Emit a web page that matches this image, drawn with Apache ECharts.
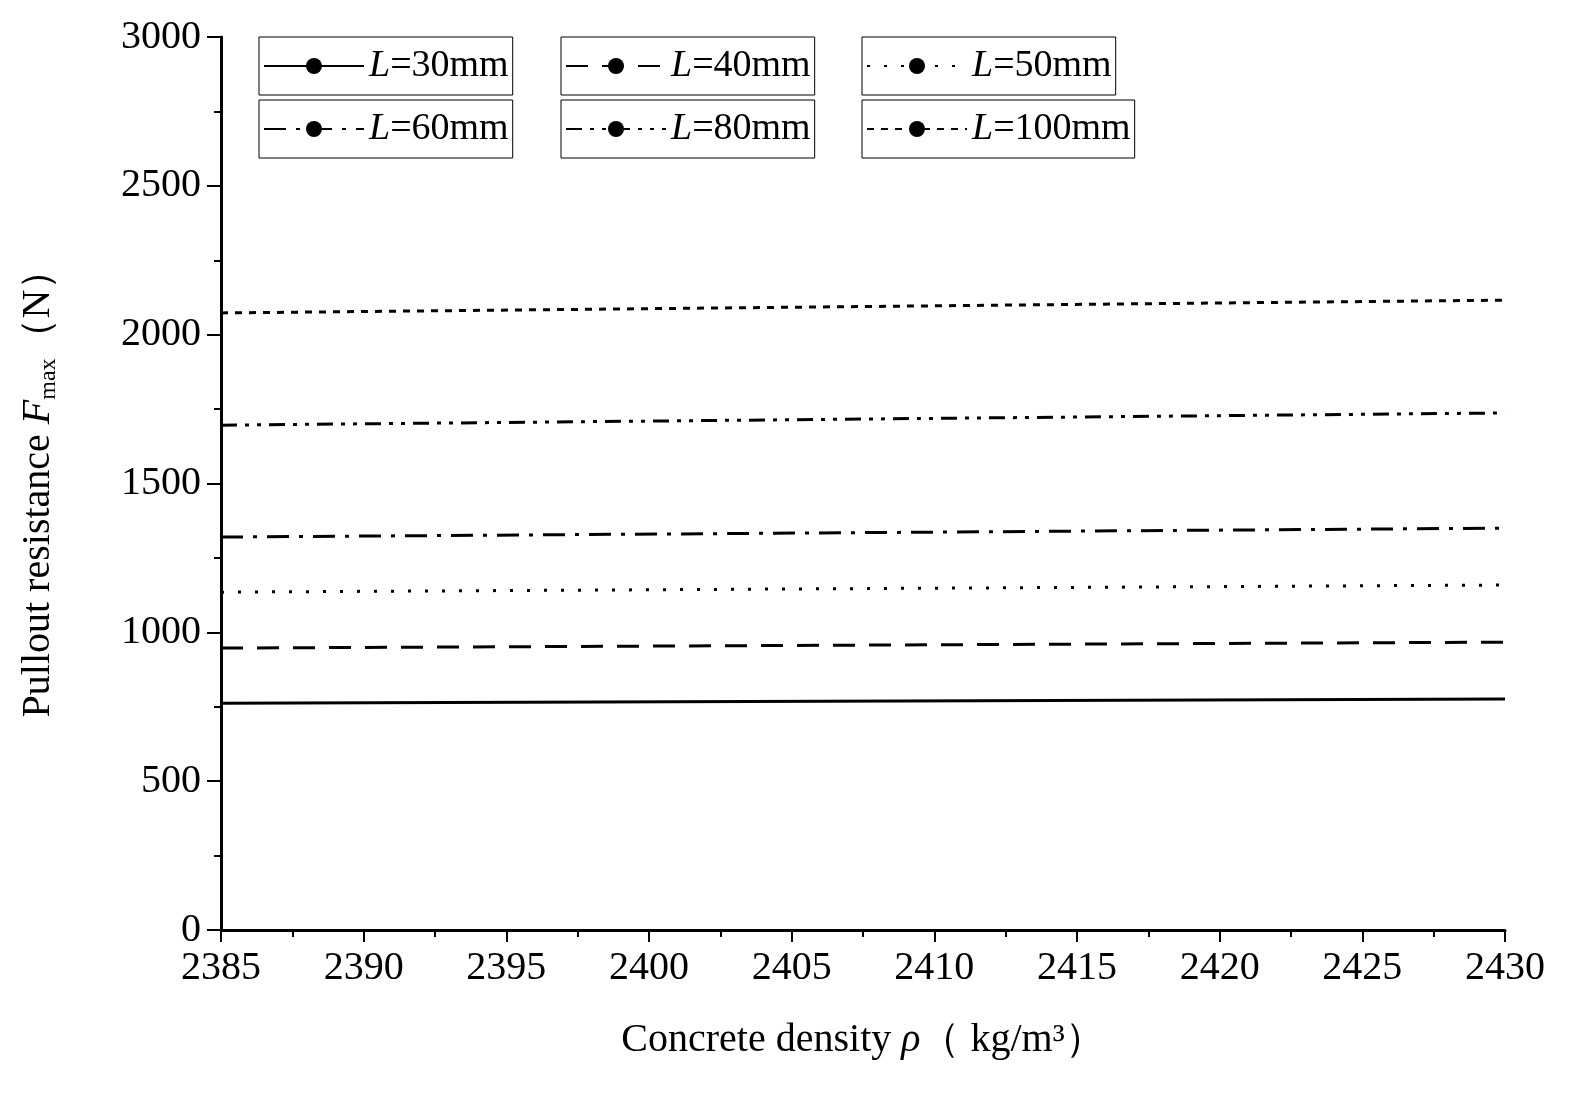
<!DOCTYPE html><html><head><meta charset="utf-8"><script src="https://cdn.jsdelivr.net/npm/echarts@6/dist/echarts.min.js"></script></head><body style="margin:0"><div id="c" style="width:1572px;height:1094px"></div><script>
const xVals=[2385,2430];
const names=['30','40','50','60','80','100'];
const s30=[762,776],s40=[947,967],s50=[1135,1159],s60=[1320,1350],s80=[1696,1737],s100=[2073,2116];
const seriesData=[s30,s40,s50,s60,s80,s100];
const dashes=['solid',[22,14],[3,14],[22,10,4,10],[16,8,4,8,4,8],[7,7]];
const F='Liberation Serif';
const boxes=[[259,37],[561,37],[862,37],[259,100],[561,100],[862,100]];
const chart=echarts.init(document.getElementById('c'));
chart.setOption({
 animation:false,
 grid:{left:221,right:67,top:37,bottom:164},
 xAxis:{type:'value',min:2385,max:2430,interval:5,
  axisLine:{lineStyle:{color:'#000',width:3}},axisTick:{length:12,lineStyle:{color:'#000',width:2}},
  minorTick:{show:true,splitNumber:2,length:7,lineStyle:{color:'#000',width:2}},splitLine:{show:false},
  axisLabel:{color:'#000',fontFamily:F,fontSize:40,margin:18,formatter:v=>String(v)},
  name:'Concrete density {i|ρ}（ kg/m³）',nameLocation:'middle',nameGap:90,
  nameTextStyle:{color:'#000',fontFamily:F,fontSize:40,rich:{i:{fontStyle:'italic',fontFamily:F,fontSize:40}}}},
 yAxis:{type:'value',min:0,max:3000,interval:500,
  axisLine:{show:true,lineStyle:{color:'#000',width:3}},axisTick:{length:14,lineStyle:{color:'#000',width:2}},
  minorTick:{show:true,splitNumber:2,length:7,lineStyle:{color:'#000',width:2}},splitLine:{show:false},
  axisLabel:{color:'#000',fontFamily:F,fontSize:40,margin:20,formatter:v=>String(v)},
  name:'Pullout resistance {i|F}{s|max}（N）',nameLocation:'middle',nameGap:160,
  nameTextStyle:{color:'#000',fontFamily:F,fontSize:40,rich:{i:{fontStyle:'italic',fontFamily:F,fontSize:40},s:{fontFamily:F,fontSize:24,verticalAlign:'bottom',padding:[22,0,0,0]}}}},
 legend:names.map((n,i)=>({show:true,data:['L='+n+'mm'],left:boxes[i][0],top:boxes[i][1],
  borderColor:'#000',borderWidth:1,padding:[10,4,10,4],itemWidth:100,itemHeight:20,itemGap:0,
  formatter:'{i|L}='+n+'mm',
  textStyle:{color:'#000',fontFamily:F,fontSize:38,rich:{i:{fontStyle:'italic',fontFamily:F,fontSize:38}}}})),
 series:seriesData.map((d,i)=>({name:'L='+names[i]+'mm',type:'line',symbol:'none',
  data:xVals.map((x,j)=>[x,d[j]]),lineStyle:{color:'#000',width:3,type:dashes[i]},itemStyle:{color:'#000'}}))
});
</script></body></html>
